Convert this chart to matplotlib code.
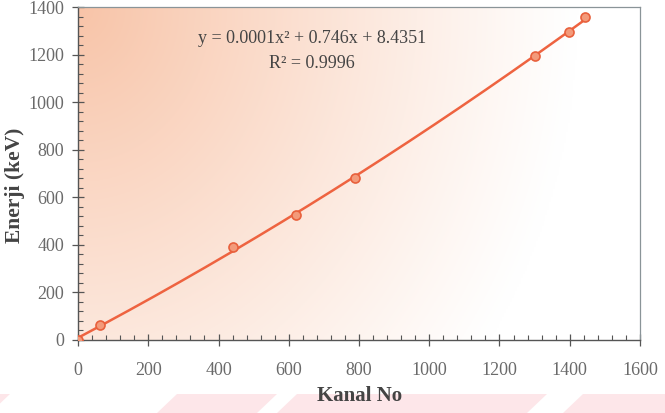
import matplotlib
matplotlib.use("Agg")
import matplotlib.pyplot as plt
import numpy as np
from matplotlib.patches import Polygon
from matplotlib.ticker import MultipleLocator

# data
kanal = [0, 63, 441, 621, 789, 1302, 1399, 1444]
enerji = [0, 63, 393, 525, 681, 1193, 1295, 1357]
x_ticks = [0, 200, 400, 600, 800, 1000, 1200, 1400, 1600]
y_ticks = [0, 200, 400, 600, 800, 1000, 1200, 1400]
eq_text = "y = 0.0001x² + 0.746x + 8.4351"
r2_text = "R² = 0.9996"

plt.rcParams['font.family'] = ['Liberation Serif', 'DejaVu Serif']

fig = plt.figure(figsize=(6.65, 4.13), dpi=100)
ax = fig.add_axes([0.1173, 0.1768, 0.8451, 0.8062])

# watermark stripes at the bottom of the page
stripe_color = '#fde6e9'
for x0, x1 in [(-40, 10), (177, 277), (297, 547), (583, 700)]:
    fig.patches.append(Polygon(
        [(x0 / 665, 19 / 413), (x1 / 665, 19 / 413),
         ((x1 - 20) / 665, 0), ((x0 - 20) / 665, 0)],
        closed=True, transform=fig.transFigure, facecolor=stripe_color,
        edgecolor='none', zorder=0))

# peach gradient fading from top-left corner
w_px, h_px = 562, 333
gx, gy = np.meshgrid(np.linspace(0, w_px, 300), np.linspace(0, h_px, 180))
dist = np.sqrt(gx ** 2 + (gy * 0.85) ** 2)
t = np.clip(1 - dist / 500, 0, 1) ** 1.1
peach = np.array([248, 196, 168]) / 255
img = np.ones((180, 300, 3)) * (1 - t[..., None]) + peach * t[..., None]
ax.imshow(img, extent=[0, 1, 0, 1], transform=ax.transAxes, aspect='auto',
          origin='upper', zorder=0)

coef = np.polyfit(kanal, enerji, 2)
xs = np.linspace(min(kanal), max(kanal), 200)
ax.plot(xs, np.polyval(coef, xs), color='#ee6340', lw=1.8, zorder=2)
ax.plot(kanal, enerji, 'o', ms=6.5, mfc='#f39a7a', mec='#e8603c', mew=1.2,
        zorder=3)

ax.set_xlim(0, 1600)
ax.set_ylim(0, 1400)
ax.set_xticks(x_ticks)
ax.set_yticks(y_ticks)
ax.xaxis.set_minor_locator(MultipleLocator(40))
ax.yaxis.set_minor_locator(MultipleLocator(40))
ax.tick_params(which='major', direction='inout', length=8, width=0.9,
               color='#555555', labelsize=13, labelcolor='#6a6a6a', pad=6)
ax.tick_params(which='minor', direction='in', length=3.5, width=0.8,
               color='#555555')
ax.tick_params(axis='x', pad=12)

for side in ['left', 'bottom']:
    ax.spines[side].set_color('#555555')
    ax.spines[side].set_linewidth(1.0)
for side in ['top', 'right']:
    ax.spines[side].set_color('#8a9498')
    ax.spines[side].set_linewidth(0.9)

fig.text(360 / 665, 1 - 396 / 413, "Kanal No", ha='center', va='center',
         fontsize=15, fontweight='bold', color='#444444')
fig.text(15 / 665, 1 - 185 / 413, "Enerji (keV)", ha='center', va='center',
         rotation=90, fontsize=15.5, fontweight='bold', color='#444444')

ax.text(667, 1269, eq_text, ha='center', va='center', fontsize=13,
        color='#444444')
ax.text(667, 1164, r2_text, ha='center', va='center', fontsize=13,
        color='#444444')

fig.savefig("out.png", dpi=100)
